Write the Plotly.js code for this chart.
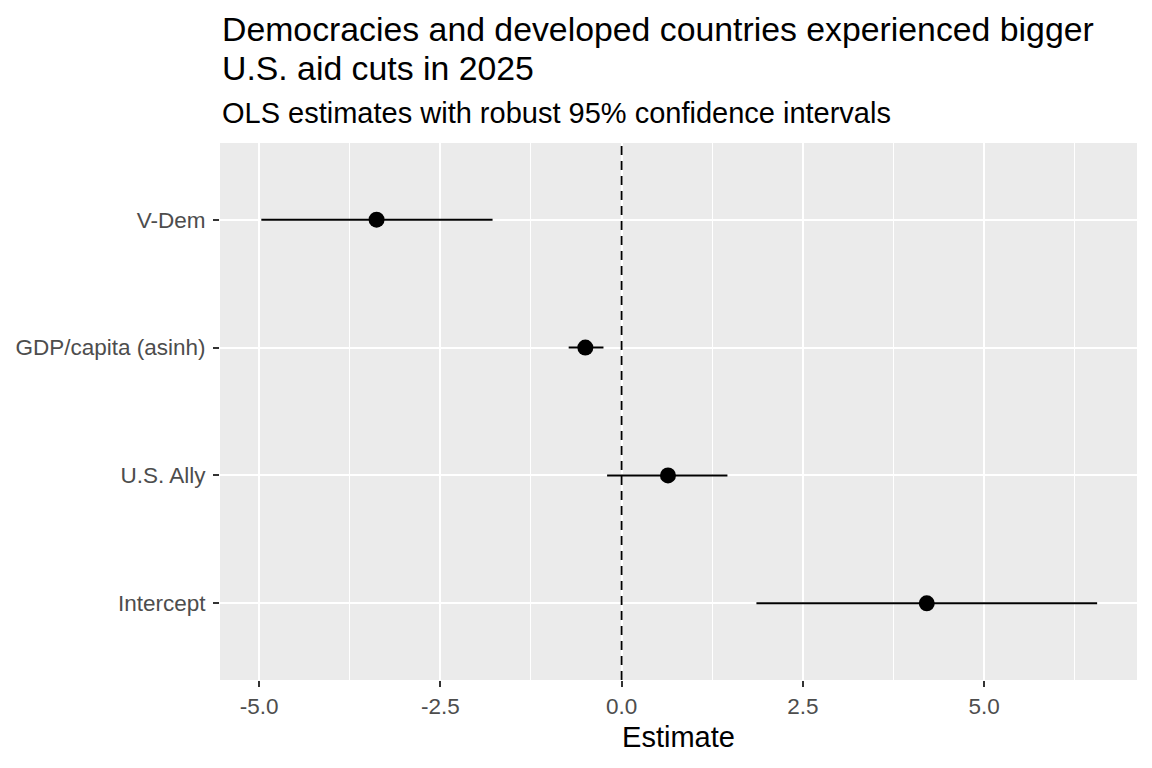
<!DOCTYPE html>
<html>
<head>
<meta charset="utf-8">
<script src="https://cdn.plot.ly/plotly-3.0.1.min.js"></script>
<style>
  html, body { margin: 0; padding: 0; background: #fff; }
  #chart { width: 1152px; height: 768px; }
</style>
</head>
<body>
<div id="chart"></div>
<script>
// coefficient table, bottom to top
const terms = ['Intercept', 'U.S. Ally', 'GDP/capita (asinh)', 'V-Dem'];
const estimate = [4.21, 0.64, -0.50, -3.38];
const conf_low = [1.86, -0.20, -0.73, -4.97];
const conf_high = [6.56, 1.46, -0.25, -1.78];

const x_ticks = [-5, -2.5, 0, 2.5, 5];
const x_labels = ['-5.0', '-2.5', '0.0', '2.5', '5.0'];

const FONT = 'Liberation Sans, Arial, sans-serif';

// error bar lengths from the interval ends
let err_plus = estimate.map((e, i) => conf_high[i] - e);
let err_minus = estimate.map((e, i) => e - conf_low[i]);

let traces = [{
  type: 'scatter',
  mode: 'markers',
  x: estimate,
  y: terms,
  marker: {color: '#000', size: 16},
  error_x: {
    type: 'data',
    symmetric: false,
    array: err_plus,
    arrayminus: err_minus,
    color: '#000',
    thickness: 2,
    width: 0
  },
  hoverinfo: 'x+y'
}];

// pixel -> paper helper for the text above the panel
const plot_top = 143, plot_bottom = 680;
function py(pix) { return (plot_bottom - pix) / (plot_bottom - plot_top); }

let layout = {
  width: 1152,
  height: 768,
  margin: {l: 220, r: 15, t: plot_top, b: 768 - plot_bottom, pad: 0},
  paper_bgcolor: '#fff',
  plot_bgcolor: '#EBEBEB',
  showlegend: false,
  font: {family: FONT, color: '#000'},
  xaxis: {
    range: [-5.54, 7.11],
    tickvals: x_ticks,
    ticktext: x_labels,
    zeroline: false,
    showline: false,
    showgrid: true,
    gridcolor: '#fff',
    gridwidth: 2,
    ticks: 'outside',
    ticklen: 6,
    tickwidth: 1.6,
    tickcolor: '#333',
    tickfont: {family: FONT, size: 22.5, color: '#4D4D4D'},
    minor: {tickvals: [-3.75, -1.25, 1.25, 3.75, 6.25], showgrid: true, gridcolor: '#fff', gridwidth: 1, ticks: ''},
    title: {text: 'Estimate', font: {family: FONT, size: 29, color: '#000'}, standoff: 8}
  },
  yaxis: {
    type: 'category',
    categoryorder: 'array',
    categoryarray: terms,
    range: [-0.6, 3.6],
    zeroline: false,
    showline: false,
    showgrid: true,
    gridcolor: '#fff',
    gridwidth: 2,
    ticks: 'outside',
    ticklen: 6,
    tickwidth: 1.6,
    tickcolor: '#333',
    ticklabelstandoff: 3,
    tickfont: {family: FONT, size: 22.5, color: '#4D4D4D'}
  },
  shapes: [{
    type: 'line',
    xref: 'x', yref: 'paper',
    x0: 0, x1: 0, y0: 0, y1: 1,
    line: {color: '#000', width: 1.8, dash: '9px,6px'},
    layer: 'above'
  }],
  annotations: [
    {text: 'Democracies and developed countries experienced bigger', xref: 'paper', yref: 'paper',
     x: 0, y: py(29), xanchor: 'left', yanchor: 'middle', showarrow: false,
     font: {family: FONT, size: 33.8, color: '#000'}},
    {text: 'U.S. aid cuts in 2025', xref: 'paper', yref: 'paper',
     x: 0, y: py(68), xanchor: 'left', yanchor: 'middle', showarrow: false,
     font: {family: FONT, size: 33.8, color: '#000'}},
    {text: 'OLS estimates with robust 95% confidence intervals', xref: 'paper', yref: 'paper',
     x: 0, y: py(113), xanchor: 'left', yanchor: 'middle', showarrow: false,
     font: {family: FONT, size: 29, color: '#000'}}
  ]
};

Plotly.newPlot('chart', traces, layout, {displayModeBar: false, responsive: false});
</script>
</body>
</html>
